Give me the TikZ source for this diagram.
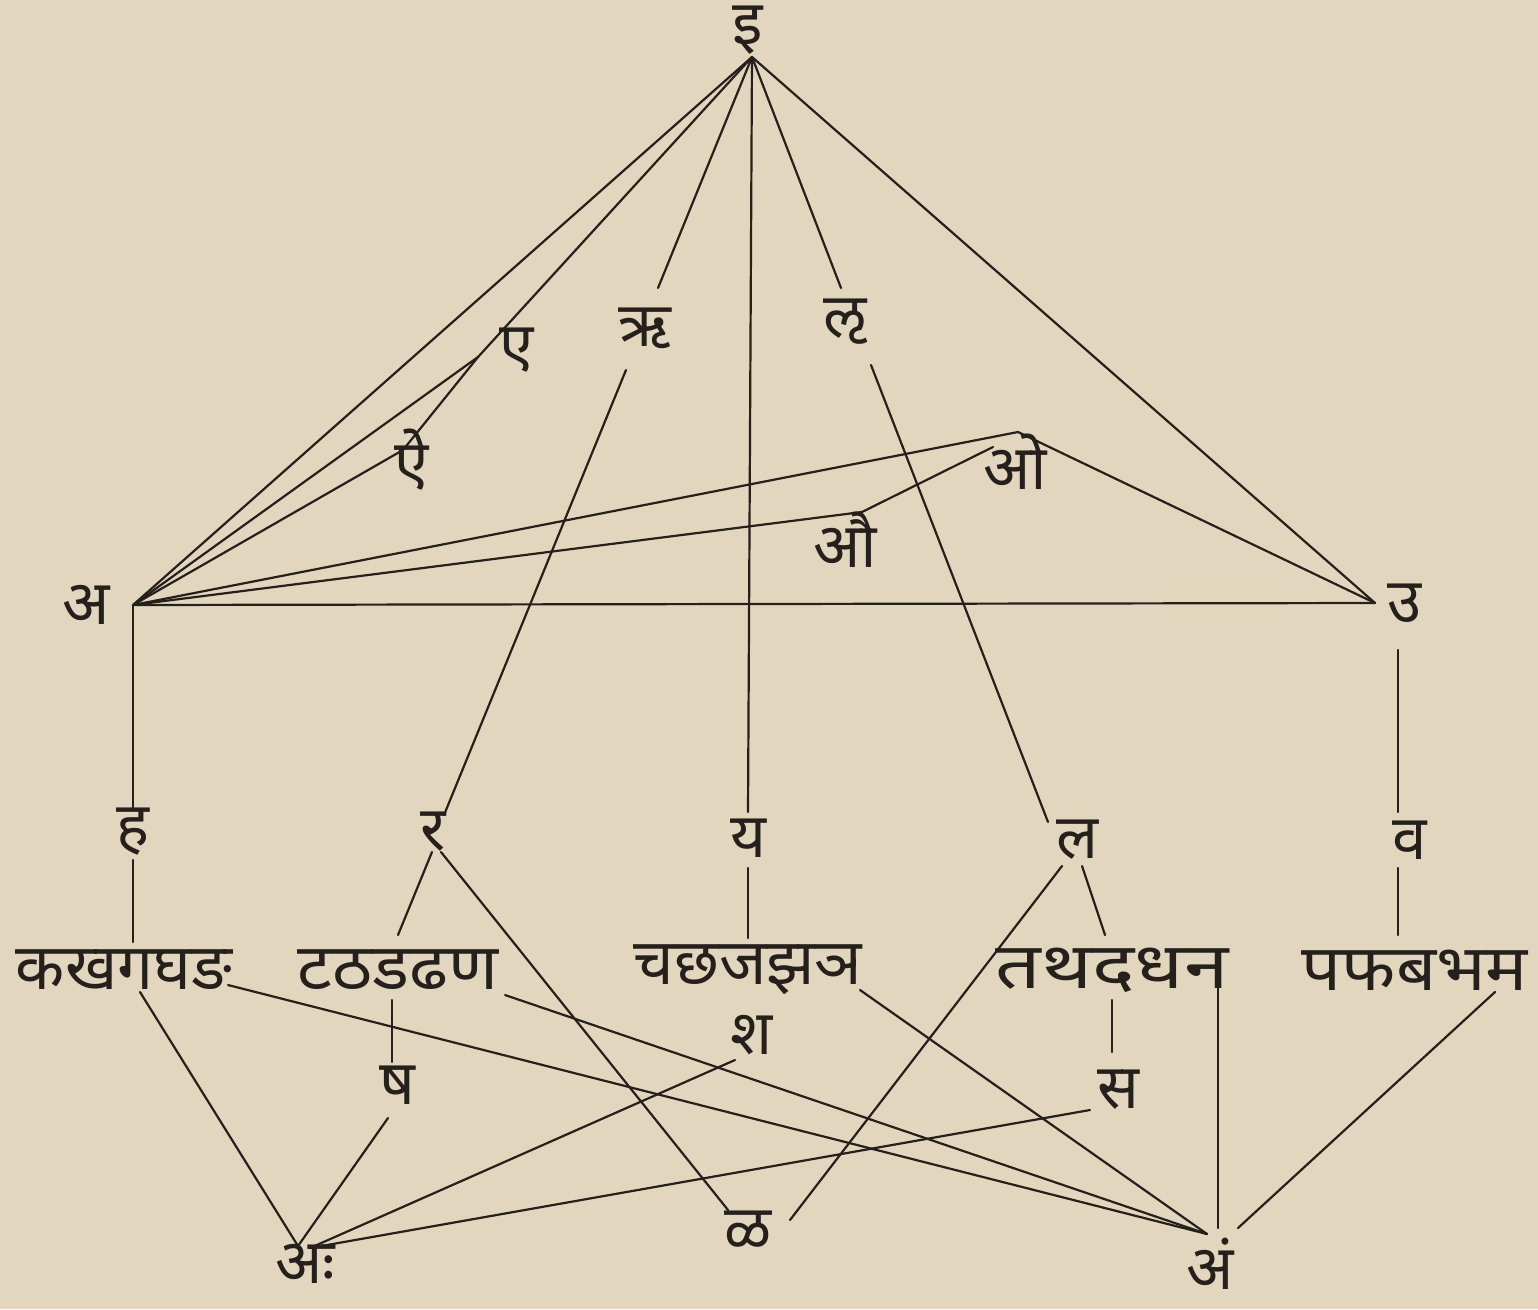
\documentclass[tikz,border=0pt]{standalone}
\usepackage{fontspec}
\newfontfamily\deva[Script=Devanagari]{Noto Sans}
\definecolor{paper}{RGB}{226,215,190}
\definecolor{ink}{RGB}{38,32,28}
\begin{document}
\begin{tikzpicture}[x=1pt,y=-1pt,
  lbl/.style={font=\deva\fontsize{62}{68}\selectfont, text=ink, inner sep=0pt, anchor=center},
  grp/.style={font=\deva\fontsize{64}{70}\selectfont, text=ink, inner sep=0pt, anchor=center},
  ln/.style={draw=ink, line width=2.2pt, line cap=round}]
\fill[paper] (0,0) rectangle (1538,1309);
\useasboundingbox (0,0) rectangle (1538,1309);
% labels
\node[lbl] (i) at (748,30) {इ};
\node[lbl] (e) at (517,350) {ए};
\node[lbl] (ai) at (412,460) {ऐ};
\node[lbl] (ri) at (645,328) {ऋ};
\node[lbl] (lri) at (845,322) {ऌ};
\node[lbl] (o) at (1015,462) {ओ};
\node[lbl] (au) at (845,540) {औ};
\node[lbl] (a) at (86,605) {अ};
\node[lbl] (u) at (1404,603) {उ};
\node[lbl] (ha) at (133,832) {ह};
\node[lbl] (ra) at (433,832) {र};
\node[lbl] (ya) at (748,838) {य};
\node[lbl] (la) at (1078,840) {ल};
\node[lbl] (va) at (1410,840) {व};
\node[grp] (ka) at (124,970) {कखगघङ};
\node[grp] (tta) at (398,970) {\scalebox{1.08}[1]{टठडढण}};
\node[grp] (ca) at (748,970) {चछजझञ};
\node[grp] (ta) at (1112,970) {\scalebox{1.25}[1]{तथदधन}};
\node[grp] (pa) at (1415,970) {\scalebox{1.1}[1]{पफबभम}};
\node[lbl] (sha) at (752,1035) {श};
\node[lbl] (ssa) at (397,1085) {ष};
\node[lbl] (sa) at (1118,1090) {स};
\node[lbl] (ah) at (305,1264) {अः};
\node[lbl] (lla) at (748,1230) {ळ};
\node[lbl] (am) at (1210,1264) {अं};
% junction points
\coordinate (apex) at (752,57);
\coordinate (ept) at (478,357);
\coordinate (aipt) at (403,450);
\coordinate (Apt) at (133,605);
\coordinate (Upt) at (1375,603);
\coordinate (opt) at (1018,432);
\coordinate (aupt) at (862,512);
\coordinate (oend) at (993,447);
\coordinate (ritop) at (658,288);
\coordinate (ribot) at (626,370);
\coordinate (raTop) at (444,815);
\coordinate (lritop) at (841,288);
\coordinate (lribot) at (871,365);
\coordinate (laTop) at (1048,822);
\coordinate (yaTop) at (748,812);
\coordinate (haTop) at (133,808);
\coordinate (haBot) at (133,860);
\coordinate (kaTop) at (133,942);
\coordinate (raBotL) at (432,852);
\coordinate (raBotR) at (441,852);
\coordinate (ttaTop) at (398,935);
\coordinate (yaBot) at (748,868);
\coordinate (caTop) at (748,938);
\coordinate (laBotL) at (1062,866);
\coordinate (laBotR) at (1082,866);
\coordinate (taTop) at (1105,935);
\coordinate (vaTopL) at (1398,650);
\coordinate (vaTop) at (1398,812);
\coordinate (vaBot) at (1398,868);
\coordinate (paTop) at (1398,935);
\coordinate (kaBotL) at (140,992);
\coordinate (kaBotR) at (228,985);
\coordinate (ttaBotS) at (392,1000);
\coordinate (ssaTop) at (392,1062);
\coordinate (ssaBot) at (388,1118);
\coordinate (ttaBotR) at (505,995);
\coordinate (shaBot) at (735,1060);
\coordinate (caBotR) at (860,990);
\coordinate (taBotS) at (1112,1000);
\coordinate (saTop) at (1112,1052);
\coordinate (saBot) at (1090,1110);
\coordinate (naBot) at (1218,988);
\coordinate (paBot) at (1495,992);
\coordinate (ahTop) at (298,1246);
\coordinate (ahTopR) at (310,1248);
\coordinate (amTop) at (1207,1234);
\coordinate (amTopV) at (1218,1228);
\coordinate (amTopR) at (1238,1228);
\coordinate (llaTopL) at (728,1210);
\coordinate (llaTopR) at (790,1220);
% upper connectors
\draw[ln] (apex) -- (Apt);
\draw[ln] (apex) -- (ept) -- (Apt);
\draw[ln] (ept) -- (aipt) -- (Apt);
\draw[ln] (apex) -- (ritop);
\draw[ln] (ribot) -- (raTop);
\draw[ln] (apex) -- (yaTop);
\draw[ln] (apex) -- (lritop);
\draw[ln] (lribot) -- (laTop);
\draw[ln] (apex) -- (Upt);
\draw[ln] (Apt) -- (Upt);
\draw[ln] (Apt) -- (opt) -- (Upt);
\draw[ln] (Apt) -- (aupt) -- (oend);
% verticals and middle
\draw[ln] (Apt) -- (haTop);
\draw[ln] (haBot) -- (kaTop);
\draw[ln] (raBotL) -- (ttaTop);
\draw[ln] (raBotR) -- (llaTopL);
\draw[ln] (yaBot) -- (caTop);
\draw[ln] (laBotR) -- (taTop);
\draw[ln] (laBotL) -- (llaTopR);
\draw[ln] (vaTopL) -- (vaTop);
\draw[ln] (vaBot) -- (paTop);
% lower connectors
\draw[ln] (kaBotL) -- (ahTop);
\draw[ln] (kaBotR) -- (amTop);
\draw[ln] (ttaBotS) -- (ssaTop);
\draw[ln] (ssaBot) -- (ahTop);
\draw[ln] (ttaBotR) -- (amTop);
\draw[ln] (shaBot) -- (ahTopR);
\draw[ln] (caBotR) -- (amTop);
\draw[ln] (taBotS) -- (saTop);
\draw[ln] (saBot) -- (ahTopR);
\draw[ln] (naBot) -- (amTopV);
\draw[ln] (paBot) -- (amTopR);
\end{tikzpicture}
\end{document}
